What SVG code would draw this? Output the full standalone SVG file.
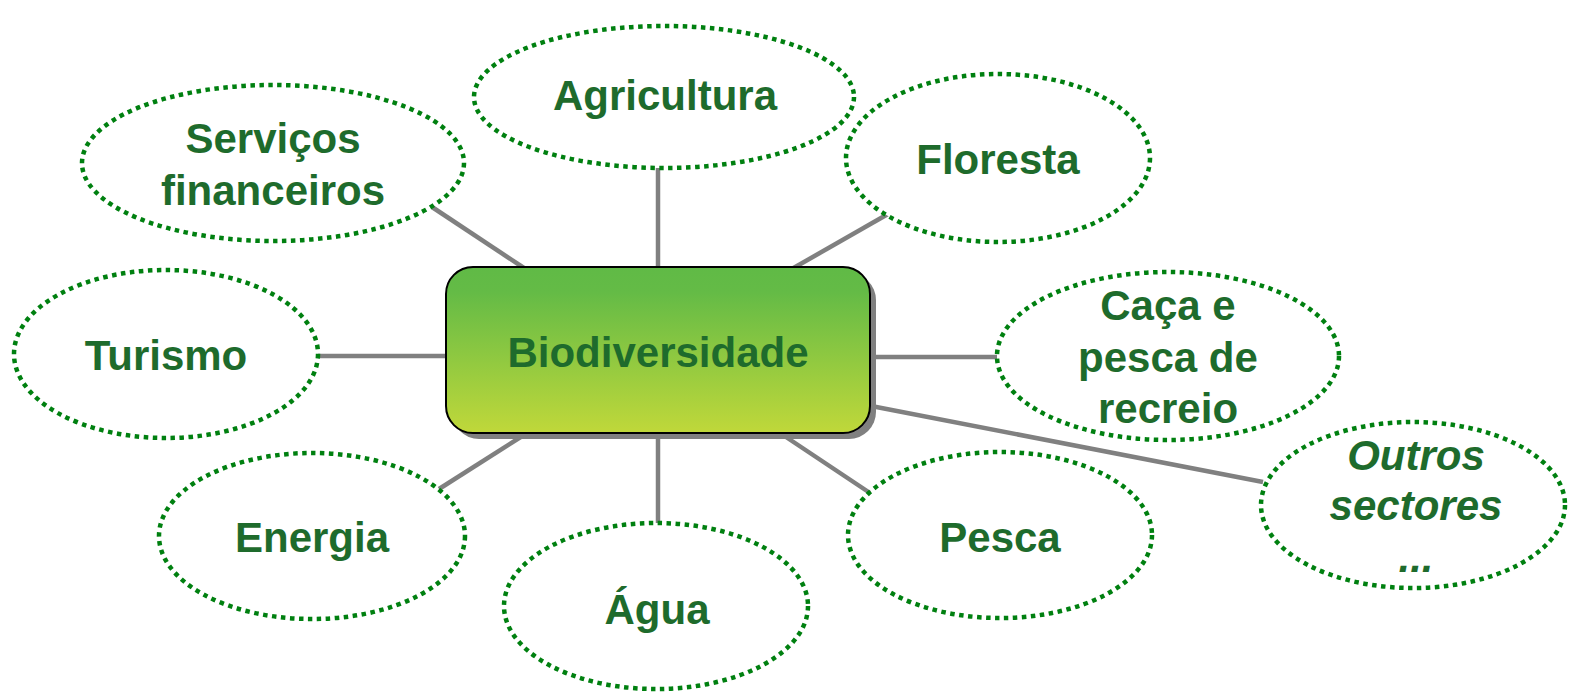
<svg xmlns="http://www.w3.org/2000/svg" width="1577" height="692" viewBox="0 0 1577 692">
  <style>
    .conn { stroke: #808080; stroke-width: 4.5; fill: none; }
    .oval { fill: #ffffff; stroke: #008010; stroke-width: 4.5; stroke-dasharray: 4.5 4.5; }
    .lbl { font-family: "Liberation Sans", Arial, sans-serif; font-weight: bold; font-size: 42px; fill: #1E6B2C; text-anchor: middle; }
    .it { font-style: italic; }
  </style>
  <defs>
    <linearGradient id="boxGrad" x1="0" y1="0" x2="0" y2="1">
      <stop offset="0" stop-color="#60BA46"/>
      <stop offset="0.15" stop-color="#64BB46"/>
      <stop offset="1" stop-color="#C0D83A"/>
    </linearGradient>
  </defs>
  <rect width="1577" height="692" fill="#ffffff"/>
  <g id="connectors">
    <line class="conn" x1="658" y1="168" x2="658" y2="270"/>
    <line class="conn" x1="432" y1="207" x2="527" y2="270"/>
    <line class="conn" x1="888" y1="214" x2="790" y2="270"/>
    <line class="conn" x1="318" y1="356" x2="450" y2="356"/>
    <line class="conn" x1="866" y1="357" x2="997" y2="357"/>
    <line class="conn" x1="866" y1="405" x2="1263" y2="482"/>
    <line class="conn" x1="439" y1="489" x2="527" y2="433"/>
    <line class="conn" x1="658" y1="430" x2="658" y2="524"/>
    <line class="conn" x1="780" y1="433" x2="870" y2="493"/>
  </g>
  <g id="node-biodiversidade">
    <rect x="452" y="273" width="424" height="166" rx="27" fill="#808080"/>
    <rect x="446" y="267" width="424" height="166" rx="27" fill="url(#boxGrad)" stroke="#000000" stroke-width="2"/>
    <text class="lbl" x="658" y="367">Biodiversidade</text>
  </g>
  <g id="node-agricultura">
    <ellipse class="oval" cx="664" cy="97" rx="190" ry="71"/>
    <text class="lbl" x="665" y="110">Agricultura</text>
  </g>
  <g id="node-servicos">
    <ellipse class="oval" cx="273" cy="163" rx="191" ry="78"/>
    <text class="lbl" x="273" y="153">Serviços</text>
    <text class="lbl" x="273" y="205">financeiros</text>
  </g>
  <g id="node-floresta">
    <ellipse class="oval" cx="998" cy="158" rx="152" ry="84"/>
    <text class="lbl" x="998" y="174">Floresta</text>
  </g>
  <g id="node-turismo">
    <ellipse class="oval" cx="166" cy="354" rx="152" ry="84"/>
    <text class="lbl" x="166" y="370">Turismo</text>
  </g>
  <g id="node-caca">
    <ellipse class="oval" cx="1168" cy="356" rx="171" ry="84"/>
    <text class="lbl" x="1168" y="320">Caça e</text>
    <text class="lbl" x="1168" y="372">pesca de</text>
    <text class="lbl" x="1168" y="423">recreio</text>
  </g>
  <g id="node-energia">
    <ellipse class="oval" cx="312" cy="536" rx="153" ry="83"/>
    <text class="lbl" x="312" y="552">Energia</text>
  </g>
  <g id="node-agua">
    <ellipse class="oval" cx="656" cy="606" rx="152" ry="83"/>
    <text class="lbl" x="657" y="624">Água</text>
  </g>
  <g id="node-pesca">
    <ellipse class="oval" cx="1000" cy="535" rx="152" ry="83"/>
    <text class="lbl" x="1000" y="552">Pesca</text>
  </g>
  <g id="node-outros">
    <ellipse class="oval" cx="1413" cy="505" rx="152" ry="83"/>
    <text class="lbl it" x="1416" y="470">Outros</text>
    <text class="lbl it" x="1416" y="520">sectores</text>
    <text class="lbl it" x="1416" y="572">...</text>
  </g>
</svg>
